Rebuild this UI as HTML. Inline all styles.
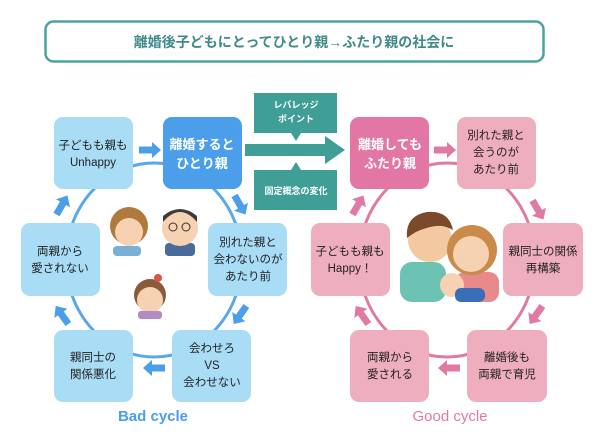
<!DOCTYPE html>
<html><head><meta charset="utf-8"><style>
body{margin:0;background:#fff}
svg text{font-family:"Liberation Sans","Noto Sans CJK JP",sans-serif;text-anchor:middle}
</style></head><body>
<svg width="600" height="433" viewBox="0 0 600 433" xmlns="http://www.w3.org/2000/svg">
<defs>
<polygon id="ar" points="-11,-3.5 2,-3.5 2,-8 11,0 2,8 2,3.5 -11,3.5"/>
</defs>
<rect x="45.5" y="21.5" width="498" height="40" rx="8" fill="#fff" stroke="#4ca39c" stroke-width="2.5"/>
<text x="294" y="47" font-size="14" font-weight="bold" fill="#3f8a88">離婚後子どもにとってひとり親→ふたり親の社会に</text>

<!-- rings -->
<ellipse cx="154" cy="260" rx="88" ry="97" fill="none" stroke="#5aa8ea" stroke-width="3"/>
<ellipse cx="447" cy="260" rx="88" ry="97" fill="none" stroke="#e07aa4" stroke-width="3"/>

<!-- left boxes -->
<g font-size="11.5" fill="#222">
<rect x="54" y="117" width="79" height="72" rx="9" fill="#a9dcf5"/>
<text x="93" y="149">子どもも親も</text><text x="93" y="166">Unhappy</text>
<rect x="163" y="117" width="79" height="72" rx="9" fill="#4a9eea"/>
<text x="202" y="149" fill="#fff" font-weight="bold" font-size="13">離婚すると</text><text x="202" y="168" fill="#fff" font-weight="bold" font-size="13">ひとり親</text>
<rect x="208" y="223" width="79" height="73" rx="9" fill="#a9dcf5"/>
<text x="248" y="246">別れた親と</text><text x="248" y="263">会わないのが</text><text x="248" y="280">あたり前</text>
<rect x="21" y="223" width="79" height="73" rx="9" fill="#a9dcf5"/>
<text x="60" y="255">両親から</text><text x="60" y="272">愛されない</text>
<rect x="54" y="330" width="79" height="72" rx="9" fill="#a9dcf5"/>
<text x="93" y="361">親同士の</text><text x="93" y="378">関係悪化</text>
<rect x="172" y="330" width="79" height="72" rx="9" fill="#a9dcf5"/>
<text x="212" y="352">会わせろ</text><text x="212" y="369">VS</text><text x="212" y="386">会わせない</text>
</g>
<g fill="#4a9eea">
<use href="#ar" transform="translate(150,150)"/>
<use href="#ar" transform="translate(240,205) rotate(60)"/>
<use href="#ar" transform="translate(240,315) rotate(125)"/>
<use href="#ar" transform="translate(154,368) rotate(180)"/>
<use href="#ar" transform="translate(62,315) rotate(235)"/>
<use href="#ar" transform="translate(62,205) rotate(300)"/>
</g>
<text x="153" y="421" font-size="15" font-weight="bold" fill="#4a9eea">Bad cycle</text>

<!-- right boxes -->
<g font-size="11.5" fill="#222">
<rect x="350" y="117" width="79" height="72" rx="9" fill="#e277a6"/>
<text x="390" y="149" fill="#fff" font-weight="bold" font-size="13">離婚しても</text><text x="390" y="168" fill="#fff" font-weight="bold" font-size="13">ふたり親</text>
<rect x="457" y="117" width="79" height="72" rx="9" fill="#efaebe"/>
<text x="496" y="139">別れた親と</text><text x="496" y="156">会うのが</text><text x="496" y="173">あたり前</text>
<rect x="311" y="223" width="79" height="73" rx="9" fill="#efaebe"/>
<text x="350" y="255">子どもも親も</text><text x="350" y="272">Happy！</text>
<rect x="503" y="223" width="80" height="73" rx="9" fill="#efaebe"/>
<text x="543" y="255">親同士の関係</text><text x="543" y="272">再構築</text>
<rect x="350" y="330" width="79" height="72" rx="9" fill="#efaebe"/>
<text x="390" y="361">両親から</text><text x="390" y="378">愛される</text>
<rect x="467" y="330" width="80" height="72" rx="9" fill="#efaebe"/>
<text x="507" y="361">離婚後も</text><text x="507" y="378">両親で育児</text>
</g>
<g fill="#e07aa4">
<use href="#ar" transform="translate(445,150)"/>
<use href="#ar" transform="translate(538,210) rotate(60)"/>
<use href="#ar" transform="translate(536,315) rotate(125)"/>
<use href="#ar" transform="translate(449,368) rotate(180)"/>
<use href="#ar" transform="translate(362,315) rotate(235)"/>
<use href="#ar" transform="translate(358,205) rotate(300)"/>
</g>
<text x="450" y="421" font-size="15" fill="#e07aa4">Good cycle</text>

<!-- middle -->
<polygon points="245,144 325,144 325,136 345,150 325,164 325,156 245,156" fill="#3f9e96"/>
<path d="M254,93 h83 v40 h-36 l-5,8 l-5,-8 h-37 z" fill="#3f9e96" transform="translate(0,0)"/>
<path d="M254,210 h83 v-40 h-36 l-5,-8 l-5,8 h-37 z" fill="#3f9e96"/>
<g font-size="9" font-weight="bold" fill="#fff">
<text x="296" y="108">レバレッジ</text><text x="296" y="122">ポイント</text>
<text x="296" y="194">固定概念の変化</text>
</g>

<!-- left faces -->
<g>
<circle cx="129" cy="226" r="19" fill="#b07a3c"/><circle cx="129" cy="232" r="14" fill="#f6d2b2"/>
<rect x="113" y="246" width="28" height="10" rx="4" fill="#7ab0d8"/>
<rect x="165" y="243" width="30" height="13" rx="4" fill="#4a6b9a"/>
<circle cx="180" cy="228" r="18" fill="#f6d2b2"/><path d="M163,222 q17,-20 34,0 v-6 q-17,-14 -34,0z" fill="#3e3a38"/>
<circle cx="173" cy="227" r="4" fill="none" stroke="#333"/><circle cx="186" cy="227" r="4" fill="none" stroke="#333"/>
<circle cx="150" cy="295" r="16" fill="#8a5a3a"/><circle cx="150" cy="300" r="13" fill="#f6d2b2"/>
<circle cx="158" cy="278" r="4" fill="#d9534f"/>
<rect x="138" y="311" width="24" height="8" rx="3" fill="#b08cc2"/>
</g>
<!-- right family -->
<g>
<rect x="400" y="262" width="46" height="40" rx="12" fill="#6cc3b4"/>
<circle cx="430" cy="240" r="22" fill="#f3c9a2"/>
<path d="M407,236 q23,-30 46,-4 q-10,-14 -46,4z" fill="#7a4a2a"/>
<path d="M407,238 q-2,-22 20,-26 q22,-2 26,18 q-20,-12 -46,8z" fill="#7a4a2a"/>
<rect x="455" y="272" width="44" height="30" rx="10" fill="#e88a8a"/>
<circle cx="472" cy="250" r="25" fill="#c98a4a"/><circle cx="471" cy="254" r="18" fill="#f6d2b2"/>
<circle cx="452" cy="285" r="12" fill="#f6d2b2"/><rect x="455" y="288" width="30" height="14" rx="6" fill="#3a6fb8"/>
</g>
</svg>
</body></html>
